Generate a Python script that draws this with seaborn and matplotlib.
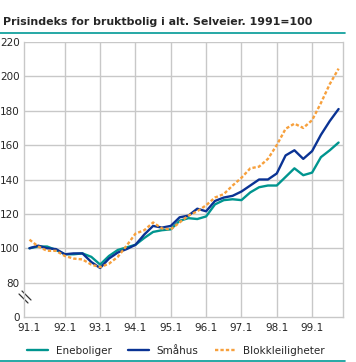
import numpy as np
import pandas as pd
import matplotlib
matplotlib.use("Agg")
import matplotlib.pyplot as plt
import seaborn as sns
from matplotlib.lines import Line2D

sns.set_style("white")
plt.rcParams['font.family'] = ['DejaVu Sans']

# Quarterly price index, 91.1 - 99.4 (1991=100)
quarters = [f"{y}.{q}" for y in range(91, 100) for q in range(1, 5)]
eneboliger = [100, 101, 101, 99, 96.5, 96.5, 97, 95, 90.5, 95.5, 99, 100.5,
              102, 106, 109.5, 110.5, 111, 116, 117.5, 117, 118.5, 125.5, 128, 128.5,
              128, 132.5, 135.5, 136.5, 136.5, 141.5, 146.5, 142.5, 144, 153, 157, 161.5]
smaahus = [100, 101.5, 100, 99.5, 96.5, 97, 97, 92, 88.5, 94, 97.5, 99.5,
           102, 108, 113, 112, 113, 118, 119, 123, 121.5, 127.5, 129.5, 130.5,
           133, 136.5, 140, 140, 143.5, 154, 157, 152, 156.5, 166, 174, 181]
blokk = [105, 101, 98.5, 98.5, 95.5, 94, 93.5, 90.5, 89, 91, 95, 101.5,
         108.5, 110.5, 115, 111.5, 111, 115, 119, 121.5, 125, 129.5, 131.5, 136.5,
         141, 146.5, 147.5, 152, 160, 169.5, 172.5, 170, 174.5, 184.5, 195.5, 204.5]

series_names = ['Eneboliger', 'Småhus', 'Blokkleiligheter']
colors = ['#00958f', '#0a3394', '#f7a03c']
year_labels = quarters[::4]
# the axis is broken: "0" sits where 60 would be
ytick_vals = [60, 80, 100, 120, 140, 160, 180, 200, 220]
ytick_labels = ['0', '80', '100', '120', '140', '160', '180', '200', '220']

x = np.arange(len(quarters))
df = pd.DataFrame({'x': np.tile(x, 3),
                   'value': eneboliger + smaahus + blokk,
                   'serie': np.repeat(series_names, len(quarters))})

fig = plt.figure(figsize=(3.56, 3.62), dpi=100)
ax = fig.add_axes([24/356, 1 - 317/362, (343 - 24)/356, (317 - 42)/362])

grid_c = '#c8c8c8'
dash = (1.4, 0.9)
sns.lineplot(data=df, x='x', y='value', hue='serie', style='serie',
             palette=dict(zip(series_names, colors)),
             dashes={'Eneboliger': '', 'Småhus': '', 'Blokkleiligheter': dash},
             linewidth=1.7, legend=False, ax=ax)

ax.set_xlim(-0.62, 35.5)
ax.set_ylim(60, 220)
ax.set_xlabel('')
ax.set_ylabel('')

# gridlines
for v in ytick_vals[1:]:
    ax.axhline(v, color=grid_c, linewidth=1, zorder=0)
for p in x[4::4]:
    ax.axvline(p, color=grid_c, linewidth=1, zorder=0)

for s in ['left', 'bottom', 'right']:
    ax.spines[s].set_color(grid_c)
    ax.spines[s].set_linewidth(1)
ax.spines['top'].set_visible(False)

ax.set_xticks(x[::4])
ax.set_xticklabels(year_labels, fontsize=7.5)
ax.set_xticks(np.arange(0, 36, 2/3), minor=True)
ax.tick_params(axis='x', which='major', length=0, pad=4)
ax.tick_params(axis='x', which='minor', direction='in', length=4, color=grid_c, width=1)
ax.set_yticks(ytick_vals)
ax.set_yticklabels(ytick_labels, fontsize=7.5)
ax.tick_params(axis='y', which='major', length=2, color=grid_c, pad=1)

# axis break mark (pixel positions converted to axes fraction)
for dx in (0, 3):
    x0, x1 = (19 + dx - 24) / 319, (28 + dx - 24) / 319
    y0, y1 = (317 - 294 + dx) / 275, (317 - 303 + dx) / 275
    ax.add_line(Line2D([x0, x1], [y0, y1], transform=ax.transAxes,
                       color='#333333', linewidth=0.9, clip_on=False))

fig.text(3/356, 1 - 22/362, 'Prisindeks for bruktbolig i alt. Selveier. 1991=100',
         fontsize=7.9, fontweight='bold', va='center', ha='left')
fig.add_artist(Line2D([0, 345/356], [1 - 33/362, 1 - 33/362], color='#009a96', linewidth=1.2))
fig.add_artist(Line2D([0, 345/356], [1 - 361/362, 1 - 361/362], color='#009a96', linewidth=1.2))

handles = [Line2D([], [], color=colors[0], linewidth=1.7),
           Line2D([], [], color=colors[1], linewidth=1.7),
           Line2D([], [], color=colors[2], linewidth=1.7, dashes=dash)]
fig.legend(handles, series_names, loc='center', bbox_to_anchor=(176/356, 1 - 351/362),
           ncol=3, frameon=False, fontsize=7.5, handlelength=2.0, handletextpad=0.7,
           columnspacing=1.6, borderpad=0)

fig.savefig('out.png', dpi=100)
